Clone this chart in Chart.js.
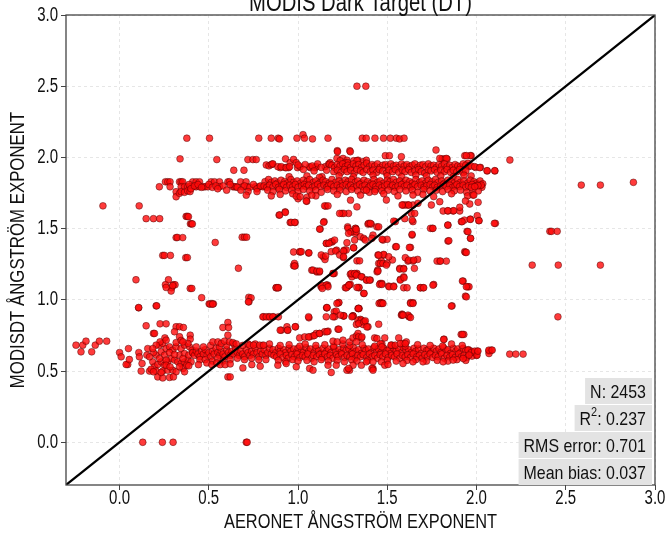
<!DOCTYPE html>
<html>
<head>
<meta charset="utf-8">
<script src="https://cdn.jsdelivr.net/npm/chart.js@4.4.1/dist/chart.umd.min.js"></script>
<style>
html,body{margin:0;padding:0;background:#fff;}
canvas{display:block;}
</style>
</head>
<body>
<canvas id="c" width="668" height="535"></canvas>
<script>
// ---------- text ----------
const chartTitle = 'MODIS Dark Target (DT)';
const xTitle = 'AERONET ÅNGSTRÖM EXPONENT';
const yTitle = 'MODISDT ÅNGSTRÖM EXPONENT';
const xTicks = [0.0, 0.5, 1.0, 1.5, 2.0, 2.5, 3.0];
const yTicks = [0.0, 0.5, 1.0, 1.5, 2.0, 2.5, 3.0];
const axisRange = [-0.3, 3.0];
const oneToOne = [-0.3, 3.0];
const statLabels = ['N', 'R2', 'RMS error', 'Mean bias'];
const statValues = ['2453', '0.237', '0.701', '0.037'];

// ---------- data ----------
const outliersTop = [[1.33,2.50],[1.38,2.50],[0.377,2.135],[0.504,2.135],[0.78,2.135],[0.85,2.135],[0.889,2.135],[0.896,2.13],[0.994,2.135],[1.028,2.16],[1.036,2.135],[1.081,2.13],[1.168,2.135],[1.36,2.135],[1.382,2.135],[1.431,2.135],[1.479,2.135],[1.517,2.135],[1.551,2.135],[1.569,2.13],[1.594,2.135],
[0.339,1.99],[0.545,1.985],[0.719,1.985],[0.747,1.985],[0.766,1.985],[1.22,2.047],[1.29,2.047],[1.773,2.052],[2.187,1.982],[1.934,2.012],[1.97,2.012],[1.807,1.989],[1.82,1.989],[1.835,1.989],[1.489,2.012],[1.512,2.012],[1.579,2.005],[0.64,1.91],[0.697,1.91],[0.822,1.947],[2.06,1.905],[2.103,1.905],[1.994,1.93],[2.022,1.93],[1.952,1.959],
[0.93,1.99],[1.252,1.993],[1.274,1.98],[1.336,1.98],[1.364,1.97],[1.383,1.98],[1.794,1.993],[1.831,1.993],[1.965,2.013],[1.943,2.013]];

const upperBand = [[0.837,1.941],[0.856,1.953],[0.9,1.928],[0.928,1.928],[0.947,1.928],[0.956,1.963],[0.975,1.986],[0.99,1.963],[0.997,1.928],[1.012,1.935],[1.068,1.928],[1.096,1.928],[1.134,1.865],[1.152,1.935],[1.171,1.953],[1.18,1.963],[1.218,1.993],[1.221,2.04],[1.236,1.977],[1.256,1.935],[1.265,1.963],[1.278,1.963],[1.293,2.04],[1.312,1.977],[1.33,1.977],[0.85,1.95],[0.859,1.955],[0.887,1.935],[0.906,1.935],[0.934,1.928],[0.953,1.935],[1.0,1.947],[1.065,1.935],[1.102,1.935],[1.177,1.952],
[1.19,1.945],[1.205,1.93],[1.22,1.95],[1.235,1.94],[1.25,1.955],[1.265,1.935],[1.28,1.945],[1.295,1.93],[1.31,1.955],[1.325,1.94],[1.34,1.95],[1.355,1.93],[1.37,1.945],[1.385,1.96],[1.4,1.935],[1.415,1.95],[1.43,1.94],[1.445,1.955],[1.46,1.93],[1.475,1.945],[1.49,1.95],[1.505,1.935],[1.52,1.955],[1.535,1.94],[1.55,1.945],[1.565,1.93],[1.58,1.955],[1.595,1.94],[1.61,1.95],[1.625,1.935],[1.64,1.945],[1.655,1.955],[1.67,1.93],[1.685,1.945],[1.7,1.95],[1.715,1.935],[1.73,1.955],[1.745,1.94],[1.76,1.945],[1.775,1.93],[1.79,1.95],[1.805,1.94],[1.82,1.955],[1.835,1.935],[1.85,1.945],[1.865,1.93],[1.88,1.95],[1.895,1.94],[1.91,1.935],[1.925,1.955],[1.94,1.945],[1.955,1.935],[1.97,1.94],
[1.2,1.9],[1.22,1.91],[1.24,1.895],[1.26,1.915],[1.275,1.9],[1.295,1.91],[1.315,1.89],[1.33,1.915],[1.35,1.905],[1.365,1.895],[1.385,1.915],[1.405,1.9],[1.42,1.91],[1.44,1.895],[1.455,1.915],[1.475,1.905],[1.495,1.89],[1.51,1.91],[1.53,1.9],[1.545,1.915],[1.565,1.895],[1.585,1.91],[1.6,1.9],[1.62,1.915],[1.635,1.895],[1.655,1.905],[1.675,1.915],[1.69,1.9],[1.71,1.89],[1.73,1.91],[1.745,1.905],[1.765,1.915],[1.78,1.895],[1.8,1.91],[1.82,1.9],[1.835,1.915],[1.855,1.895],[1.87,1.91],[1.89,1.9],[1.905,1.915],[1.925,1.895],[1.94,1.905],[1.99,1.935],[2.018,1.928],[2.059,1.907],[2.102,1.907],
[1.05,1.87],[1.23,1.87],[1.31,1.865],[1.42,1.875],[1.5,1.87],[1.58,1.865],[1.66,1.875],[1.72,1.87],[1.8,1.87],[1.87,1.865],[1.93,1.875],[1.97,1.87],[1.12,1.86],[0.95,1.865],
[1.04,1.95],[1.08,1.94],[1.11,1.955],[1.13,1.93],[1.16,1.91],[1.09,1.905],[1.03,1.915]];

const band18Left = [[0.257,1.829],[0.27,1.829],[0.283,1.829],[0.336,1.829],[0.345,1.829],[0.354,1.829],[0.41,1.829],[0.429,1.829],[0.448,1.829],[0.513,1.829],[0.532,1.829],[0.56,1.829],[0.607,1.829],[0.616,1.829],[0.678,1.829],[0.709,1.829],
[0.223,1.794],[0.283,1.794],[0.345,1.794],[0.364,1.794],[0.382,1.794],[0.395,1.794],[0.41,1.794],[0.429,1.794],[0.448,1.794],[0.47,1.794],[0.48,1.794],[0.495,1.794],[0.56,1.794],[0.635,1.794],[0.644,1.794],[0.653,1.794],[0.691,1.794],[0.719,1.794],[0.762,1.794],[0.784,1.794],[0.803,1.794],
[0.317,1.759],[0.317,1.724],[0.336,1.748],[0.345,1.76],[0.364,1.755],[0.382,1.765],[0.395,1.76],
[0.39,1.81],[0.40,1.78],[0.42,1.8],[0.44,1.81],[0.46,1.79],[0.5,1.81],[0.52,1.79],[0.54,1.8],[0.58,1.8],[0.62,1.81],[0.66,1.79],[0.7,1.8],[0.73,1.79],[0.75,1.81],[0.77,1.78],[0.79,1.8],[0.72,1.76],[0.77,1.76],[0.68,1.77],[0.6,1.77],[0.55,1.78],[0.71,1.735]];

const band18 = [[0.815,1.83],[0.835,1.845],[0.85,1.825],[0.87,1.835],[0.885,1.82],[0.905,1.84],[0.925,1.83],[0.94,1.82],[0.96,1.845],[0.975,1.825],[0.995,1.835],[1.015,1.82],[1.03,1.84],[1.05,1.83],[1.065,1.845],[1.085,1.825],[1.1,1.835],[1.12,1.82],[1.14,1.84],[1.155,1.83],[1.175,1.82],[1.19,1.845],[1.21,1.825],[1.23,1.835],[1.245,1.82],[1.265,1.84],[1.28,1.83],[1.3,1.845],[1.32,1.825],[1.335,1.835],[1.355,1.82],[1.37,1.84],[1.39,1.83],[1.41,1.82],[1.425,1.845],[1.445,1.825],[1.46,1.835],[1.48,1.82],[1.5,1.84],[1.515,1.83],[1.535,1.845],[1.55,1.825],[1.57,1.835],[1.59,1.82],[1.605,1.84],[1.625,1.83],[1.64,1.82],[1.66,1.845],[1.68,1.825],[1.695,1.835],[1.715,1.82],[1.73,1.84],[1.75,1.83],[1.77,1.845],[1.785,1.825],[1.805,1.835],[1.82,1.82],[1.84,1.84],[1.86,1.83],[1.875,1.82],[1.895,1.845],[1.91,1.825],[1.93,1.835],[1.95,1.82],[1.965,1.84],[1.985,1.83],[2.0,1.82],[2.02,1.835],[2.035,1.815],
[0.81,1.8],[0.825,1.79],[0.84,1.805],[0.86,1.795],[0.875,1.81],[0.89,1.79],[0.91,1.8],[0.92,1.81],[0.935,1.79],[0.955,1.805],[0.97,1.795],[0.985,1.81],[1.0,1.79],[1.02,1.8],[1.035,1.81],[1.045,1.795],[1.06,1.805],[1.08,1.79],[1.095,1.8],[1.11,1.81],[1.125,1.795],[1.145,1.805],[1.16,1.79],[1.17,1.8],[1.185,1.81],[1.2,1.795],[1.22,1.805],[1.235,1.79],[1.25,1.8],[1.27,1.81],[1.285,1.795],[1.295,1.805],[1.31,1.79],[1.33,1.8],[1.345,1.81],[1.36,1.795],[1.375,1.805],[1.395,1.79],[1.405,1.8],[1.42,1.81],[1.435,1.795],[1.455,1.805],[1.47,1.79],[1.485,1.8],[1.5,1.81],[1.52,1.795],[1.53,1.805],[1.545,1.79],[1.56,1.8],[1.58,1.81],[1.595,1.795],[1.61,1.805],[1.63,1.79],[1.645,1.8],[1.655,1.81],[1.67,1.795],[1.69,1.805],[1.705,1.79],[1.72,1.8],[1.74,1.81],[1.755,1.795],[1.765,1.805],[1.78,1.79],[1.8,1.8],[1.815,1.81],[1.83,1.795],[1.85,1.805],[1.865,1.79],[1.88,1.8],[1.89,1.81],[1.905,1.795],[1.925,1.805],[1.94,1.79],[1.955,1.8],[1.975,1.81],[1.99,1.795],[2.005,1.805],[2.02,1.8],[2.03,1.79],
[0.83,1.77],[0.86,1.76],[0.895,1.775],[0.93,1.765],[0.965,1.77],[1.0,1.76],[1.03,1.775],[1.065,1.765],[1.1,1.77],[1.13,1.755],[1.165,1.775],[1.2,1.765],[1.235,1.77],[1.27,1.76],[1.3,1.775],[1.335,1.765],[1.37,1.77],[1.4,1.755],[1.435,1.775],[1.47,1.765],[1.505,1.77],[1.54,1.76],[1.57,1.775],[1.605,1.765],[1.64,1.77],[1.67,1.755],[1.705,1.775],[1.74,1.765],[1.775,1.77],[1.81,1.76],[1.84,1.775],[1.875,1.765],[1.91,1.77],[1.945,1.755],[1.98,1.77],[2.01,1.765],
[0.9,1.74],[0.97,1.745],[1.1,1.73],[1.22,1.74],[1.35,1.735],[1.48,1.745],[1.56,1.73],[1.7,1.74],[1.76,1.725],[1.86,1.745],[1.95,1.73],[0.85,1.73],[1.0,1.71],[1.05,1.72],[0.99,1.728],[1.012,1.724],[1.077,1.735],[2.027,1.806],[2.008,1.802],[1.971,1.79],[1.99,1.795],[1.383,1.77],[1.43,1.76],[1.644,1.736],[1.98,1.736],[1.985,1.736]];

const midScatter = [[-0.093,1.66],[0.11,1.66],[0.149,1.57],[0.19,1.57],[0.225,1.57],[0.373,1.586],[0.38,1.586],[0.386,1.584],[0.397,1.534],[0.403,1.534],[0.408,1.533],[0.317,1.437],[0.324,1.438],[0.354,1.437],[0.536,1.403],[0.687,1.44],[0.70,1.44],[0.712,1.44],[0.242,1.312],[0.251,1.312],[0.285,1.312],[0.371,1.296],[0.38,1.297],[0.666,1.222],[0.092,1.141],[0.274,1.141],[0.257,1.106],[0.302,1.106],[0.292,1.085],[0.311,1.106],[0.289,1.062],[0.261,1.087],[0.298,1.1],[0.396,1.08],[0.405,1.08],[0.46,1.015],[0.502,0.972],[0.517,0.972],[0.526,0.972],[0.107,0.944],[0.205,0.958],[0.724,1.018],[0.737,1.014],[0.725,0.986],[0.877,1.085],[0.89,1.085],[0.807,0.881],[0.835,0.881],[0.862,0.881],[0.89,0.881],[0.803,0.881],
[0.894,1.595],[0.928,1.618],[0.956,1.543],[0.984,1.543],[1.049,1.692],[0.975,1.336],[1.012,1.336],[1.059,1.329],[1.077,1.208],[1.105,1.196],[1.12,1.196],[0.975,1.24],[0.984,1.24],[1.124,1.497],[1.156,1.658],[1.146,1.549],[1.16,1.396],[1.192,1.407],[1.216,1.349],[1.259,1.349],[1.141,1.302],[1.151,1.283],[1.197,1.185],[1.203,1.185],[1.16,1.104],[1.166,1.104],[1.129,1.092],[1.254,1.297],[1.277,1.092],[1.287,1.106],[1.293,1.18],[1.312,1.18],[1.33,1.18],[1.227,0.979],[1.16,0.944],[1.203,0.916],[1.254,0.888],[1.307,0.888],[1.33,1.274],[1.312,1.365],[1.294,1.478],[1.32,1.467],[1.278,1.513],[1.283,1.607],[1.246,1.607],[1.256,1.607],[1.294,1.70],[1.33,1.653],
[1.046,1.694],[1.149,1.66],[1.168,1.66],[0.897,1.596],[0.929,1.614],[1.233,1.607],[0.962,1.544],[0.981,1.544],[1.121,1.497],[1.143,1.544],[1.28,1.502],[1.323,1.502],[1.392,1.532],[1.41,1.532],[1.545,1.549],[1.644,1.549],[1.753,1.502],[1.84,1.525],[1.915,1.549],[1.588,1.666],[1.616,1.666],[1.644,1.666],[1.672,1.678],[1.747,1.666],[1.794,1.689],[1.813,1.624],[1.84,1.624],[1.869,1.624],[1.906,1.624],[1.495,1.701],[1.299,1.478],[1.327,1.478],[1.42,1.455],[1.476,1.42],[1.186,1.408],[1.205,1.42],[1.158,1.397],[1.173,1.397],[1.317,1.42],[1.009,1.338],[1.018,1.338],[1.061,1.33],[1.13,1.315],[1.155,1.308],[1.186,1.338],[1.211,1.343],[1.27,1.35],[1.233,1.315],[1.48,1.315],[1.547,1.373],[1.639,1.455],[1.84,1.413],[1.794,1.272],[1.831,1.272],[1.616,1.272],[1.644,1.272],[1.448,1.315],[1.467,1.272],[1.934,1.338],[1.529,1.28],[0.98,1.256],
[2.009,1.685],[1.962,1.673],[1.938,1.694],[1.906,1.65],[1.872,1.626],[1.839,1.626],[2.004,1.591],[2.013,1.556],[1.966,1.567],[1.932,1.56],[1.919,1.549],[1.839,1.525],[1.947,1.481],[1.966,1.432],[1.845,1.415],[1.938,1.333],[1.925,1.132],[1.951,1.092],[1.938,1.026],[1.863,0.958],[1.635,1.607],[1.654,1.607],[1.601,1.666],[1.62,1.666],[1.583,1.666],[1.536,1.553],[1.598,1.57],[1.639,1.56],[1.442,1.513],[1.452,1.513],[1.396,1.537],[1.405,1.537],[1.742,1.502],[1.756,1.502],[1.639,1.46],[1.499,1.425],[1.471,1.425],[1.551,1.373],[1.63,1.368],[1.624,1.368],[1.48,1.319],[1.508,1.303],[1.452,1.314],[1.601,1.296],[1.62,1.279],[1.67,1.284],[1.648,1.279],[1.779,1.272],[1.798,1.272],[1.452,1.256],[1.461,1.256],[1.476,1.256],[1.499,1.256],[1.446,1.209],[1.443,1.197],[1.57,1.221],[1.592,1.221],[1.652,1.221],[1.592,1.162],[1.573,1.144],[1.461,1.115],[1.47,1.115],[1.508,1.097],[1.536,1.097],[1.592,1.085],[1.611,1.085],[1.686,1.085],[1.701,1.085],[1.76,1.108],[1.461,0.98],[1.47,0.98],[1.63,0.98],[1.644,0.98],[1.34,0.94],[1.583,0.9],[1.62,0.886],[1.255,0.886],[1.349,0.863],[1.321,1.502],[1.326,1.495],[1.283,1.467],[1.349,1.443],[1.368,1.432],[1.414,1.432],[1.377,1.42],[1.311,1.366],[1.255,1.342],[1.274,1.401],[1.33,1.186],[1.321,1.174],[1.302,1.162],[1.358,1.162],[1.386,1.139],[1.405,1.139],[1.293,1.108],[1.265,1.085],[1.34,1.085],[1.368,1.045],[1.345,1.274],[1.255,1.303],
[1.965,1.565],[2.014,1.556],[1.952,1.479],[1.967,1.432],[1.943,1.333],[1.958,1.092],[1.943,1.092],[1.943,1.021],[2.106,1.537],[2.1,1.537],
[0.981,1.237],[1.084,1.209],[1.106,1.202],[1.121,1.202],[1.196,1.185],[1.299,1.185],[1.317,1.185],[1.327,1.174],[1.355,1.162],[1.383,1.139],[1.401,1.139],[1.448,1.202],[1.495,1.244],[1.57,1.216],[1.592,1.216],[1.573,1.139],[1.594,1.155],[1.921,1.132],[0.878,1.085],[0.887,1.085],[1.13,1.103],[1.158,1.103],[1.168,1.092],[1.136,1.08],[1.271,1.085],[1.285,1.103],[1.342,1.087],[1.33,1.087],[1.37,1.045],[1.457,1.108],[1.47,1.108],[1.51,1.092],[1.536,1.092],[1.685,1.085],[1.704,1.085],[1.756,1.103],[1.229,0.982],[1.162,0.944],[1.214,0.921],[1.205,0.881],[1.257,0.888],[1.308,0.888],[1.342,0.939],[1.336,0.939],[1.454,0.975],[1.47,0.975],[1.631,0.975],[1.644,0.975],[1.579,0.893],[1.622,0.881],[1.616,0.893],[1.859,0.956],[1.061,0.874],[0.822,0.881],[0.841,0.881],[0.859,0.881],[0.906,0.787],[0.938,0.811],[0.986,0.811],[0.943,0.787],[1.158,0.881],[1.196,0.881],[1.336,0.858],[1.355,0.858],[1.373,0.846],[1.392,0.811],[1.364,0.827],[1.327,0.827],[1.224,0.794],[1.229,0.794],
[1.465,0.975],[1.476,0.975],[1.583,0.893],[1.588,0.893],[1.63,0.876],[1.237,0.893],[1.308,0.886],[1.34,0.834],[1.368,0.846],[1.377,0.853],[1.386,0.81],[1.452,0.829],[1.914,0.757],[1.929,0.757],[0.107,0.946],[0.208,0.958],[0.507,0.97],[0.522,0.97],[0.722,0.986],[1.059,0.881],[1.162,0.946],[1.218,0.975],[1.302,0.881],[1.339,0.94],[0.9,0.787],[0.941,0.787],[0.984,0.811]];

const outliersRight = [[2.587,1.806],[2.694,1.806],[2.879,1.825],[2.411,1.481],[2.42,1.481],[2.452,1.481],[2.312,1.244],[2.458,1.244],[2.694,1.244],[2.456,0.881],[2.186,0.619],[2.22,0.619],[2.261,0.619],[2.07,0.64],[2.083,0.647],[2.07,0.623],[2.069,0.647],[2.088,0.647]];

const lowLeft = [[0.13,0.0],[0.24,0.0],[0.30,0.0],[0.71,0.0],[0.715,0.0],
[-0.244,0.682],[-0.206,0.682],[-0.188,0.71],[-0.216,0.635],[-0.156,0.635],[-0.136,0.682],[-0.113,0.71],[-0.072,0.71],
[0.05,0.658],[0.0,0.63],[0.009,0.6],[0.046,0.546],[0.037,0.546],[0.055,0.581],[0.108,0.63],[0.111,0.6],[0.126,0.553],[0.158,0.658],[0.153,0.612],[0.121,0.5],[0.168,0.5],
[0.149,0.818],[0.227,0.832],[0.261,0.832],[0.19,0.764],[0.196,0.764],[0.254,0.733],[0.317,0.811],[0.336,0.811],[0.358,0.806],[0.308,0.776],[0.336,0.741],[0.396,0.752],[0.396,0.724],[0.579,0.806],[0.607,0.841],[0.611,0.806],[0.607,0.752],
[0.205,0.612],[0.224,0.682],[0.242,0.694],[0.233,0.635],[0.261,0.658],[0.28,0.67],[0.298,0.647],[0.317,0.67],[0.345,0.658],[0.364,0.682],[0.392,0.67],[0.407,0.647],[0.186,0.565],[0.196,0.53],[0.214,0.546],[0.233,0.565],[0.252,0.541],[0.27,0.565],[0.289,0.588],[0.308,0.577],[0.326,0.565],[0.345,0.553],[0.364,0.565],[0.383,0.577],[0.401,0.565],[0.177,0.513],[0.205,0.5],[0.242,0.5],[0.27,0.506],[0.298,0.506],[0.317,0.495],[0.214,0.459],[0.242,0.452],[0.28,0.455],[0.302,0.459],[0.355,0.518],[0.377,0.541],[0.336,0.612],[0.364,0.623],[0.388,0.612],[0.41,0.628],
[0.19,0.63],[0.168,0.6],[0.252,0.612],[0.28,0.63],[0.308,0.616],[0.261,0.577],[0.224,0.588],[0.355,0.588],[0.388,0.537],[0.227,0.705],[0.261,0.717],[0.317,0.7],[0.345,0.715],[0.383,0.694],[0.355,0.705],[0.205,0.682],[0.186,0.658],[0.261,0.541],[0.283,0.53],[0.336,0.53],[0.364,0.495],[0.233,0.49],[0.19,0.495]];

const band06 = [[0.41,0.63],[0.42,0.61],[0.43,0.64],[0.44,0.62],[0.45,0.60],[0.46,0.64],[0.47,0.62],[0.48,0.65],[0.49,0.61],[0.50,0.63],[0.51,0.60],[0.52,0.64],[0.53,0.62],[0.54,0.66],[0.55,0.63],[0.56,0.61],[0.57,0.64],[0.58,0.62],[0.59,0.60],[0.60,0.65],[0.61,0.63],[0.62,0.61],[0.63,0.64],[0.64,0.62],[0.65,0.66],[0.66,0.63],[0.67,0.61],[0.68,0.64],[0.69,0.62],[0.70,0.60],[0.71,0.65],[0.72,0.63],[0.73,0.61],[0.74,0.64],[0.75,0.62],[0.76,0.66],[0.77,0.63],[0.78,0.60],[0.79,0.64],[0.80,0.62],[0.81,0.65],[0.82,0.61],[0.83,0.63],[0.84,0.66],[0.85,0.62],
[0.45,0.58],[0.48,0.58],[0.52,0.57],[0.55,0.59],[0.58,0.57],[0.62,0.58],[0.66,0.59],[0.70,0.58],[0.74,0.59],[0.78,0.58],[0.82,0.58],[0.43,0.67],[0.47,0.67],[0.51,0.68],[0.56,0.67],[0.6,0.68],[0.64,0.69],[0.69,0.68],[0.72,0.69],[0.76,0.69],[0.8,0.68],[0.84,0.69],[0.607,0.459],[0.62,0.459],
[0.523,0.705],[0.551,0.705],[0.57,0.694],[0.588,0.71],[0.616,0.705],[0.635,0.7],[0.654,0.691],[0.729,0.682],[0.751,0.682],[0.785,0.682],[0.807,0.682],[0.442,0.545],[0.489,0.557],[0.517,0.545],[0.545,0.557],[0.564,0.545],[0.592,0.545],[0.62,0.55],[0.691,0.522],[0.741,0.545],[0.788,0.534],
[0.86,0.65],[0.875,0.63],[0.89,0.66],[0.9,0.64],[0.92,0.65],[0.93,0.63],[0.95,0.66],[0.96,0.64],[0.975,0.655],[0.99,0.63],[1.0,0.66],[1.02,0.645],[1.03,0.63],[1.045,0.665],[1.06,0.64],[1.07,0.655],[1.09,0.63],[1.1,0.66],[1.115,0.645],[1.13,0.625],[1.14,0.66],[1.16,0.64],[1.17,0.655],[1.185,0.63],[1.2,0.665],[1.21,0.64],[1.23,0.65],[1.24,0.63],[1.255,0.66],[1.27,0.645],[1.285,0.655],[1.3,0.63],[1.31,0.665],[1.325,0.64],[1.34,0.65],[1.355,0.625],[1.37,0.66],[1.38,0.645],[1.395,0.655],[1.41,0.63],[1.425,0.665],[1.44,0.64],[1.45,0.655],[1.465,0.63],[1.48,0.66],[1.495,0.645],[1.51,0.65],[1.52,0.625],[1.535,0.66],[1.55,0.64],[1.565,0.655],[1.58,0.63],[1.59,0.665],[1.605,0.645],[1.62,0.65],[1.635,0.63],[1.65,0.66],[1.66,0.64],[1.675,0.655],[1.69,0.625],[1.705,0.66],[1.72,0.645],[1.73,0.65],[1.745,0.63],[1.76,0.66],[1.775,0.64],[1.79,0.655],[1.8,0.63],[1.815,0.665],[1.83,0.645],[1.84,0.65],[1.855,0.625],[1.87,0.66],[1.885,0.64],[1.895,0.655],[1.91,0.63],[1.925,0.66],[1.94,0.645],[1.955,0.65],[1.97,0.64],[1.99,0.63],[2.005,0.64],[2.0,0.61],
[0.865,0.61],[0.88,0.6],[0.9,0.62],[0.915,0.595],[0.935,0.61],[0.945,0.59],[0.965,0.615],[0.98,0.6],[0.995,0.62],[1.01,0.595],[1.025,0.61],[1.04,0.6],[1.055,0.62],[1.075,0.59],[1.085,0.61],[1.105,0.6],[1.12,0.615],[1.135,0.595],[1.15,0.62],[1.165,0.6],[1.18,0.61],[1.195,0.59],[1.215,0.615],[1.225,0.6],[1.245,0.62],[1.26,0.595],[1.275,0.61],[1.29,0.6],[1.305,0.62],[1.32,0.59],[1.335,0.61],[1.35,0.6],[1.365,0.615],[1.385,0.595],[1.4,0.62],[1.415,0.6],[1.43,0.61],[1.445,0.59],[1.46,0.615],[1.475,0.6],[1.49,0.62],[1.505,0.595],[1.525,0.61],[1.54,0.6],[1.555,0.62],[1.57,0.59],[1.585,0.61],[1.6,0.6],[1.615,0.615],[1.63,0.595],[1.645,0.62],[1.665,0.6],[1.68,0.61],[1.695,0.59],[1.71,0.615],[1.725,0.6],[1.74,0.62],[1.755,0.595],[1.77,0.61],[1.785,0.6],[1.805,0.62],[1.82,0.59],[1.835,0.61],[1.85,0.6],[1.865,0.615],[1.88,0.595],[1.9,0.62],[1.915,0.6],[1.93,0.61],[1.945,0.595],[1.96,0.62],[1.975,0.605],
[0.89,0.575],[0.93,0.565],[0.97,0.58],[1.0,0.57],[1.05,0.575],[1.09,0.565],[1.13,0.58],[1.17,0.57],[1.22,0.575],[1.26,0.565],[1.3,0.58],[1.33,0.57],[1.39,0.575],[1.42,0.565],[1.5,0.575],[1.55,0.57],[1.61,0.575],[1.66,0.58],[1.72,0.57],[1.78,0.575],[1.84,0.57],[1.89,0.58],[1.94,0.575],
[0.9,0.68],[0.95,0.685],[1.01,0.675],[1.04,0.69],[1.1,0.68],[1.15,0.685],[1.2,0.675],[1.25,0.69],[1.29,0.68],[1.36,0.685],[1.43,0.675],[1.47,0.69],[1.53,0.68],[1.6,0.675],[1.67,0.685],[1.74,0.68],[1.81,0.675],[1.86,0.69],[1.92,0.68],
[1.952,0.647],[1.971,0.63],[1.99,0.64],[2.003,0.612],[2.008,0.64],[1.958,0.612],
[1.009,0.733],[1.037,0.74],[1.065,0.74],[1.084,0.747],[1.102,0.764],[1.121,0.764],[1.149,0.776],[1.168,0.78],[1.196,0.71],[1.22,0.705],[1.252,0.717],[1.289,0.705],[1.308,0.733],[1.327,0.747],[1.336,0.764],[1.355,0.733],[1.429,0.733],[1.486,0.733],[1.523,0.682],[1.564,0.733],[1.588,0.694],[1.607,0.705],[1.818,0.724],[1.921,0.757],[1.816,0.722],[1.34,0.74],[1.327,0.705],[1.358,0.74],[1.461,0.693],[1.442,0.729],[1.521,0.682],[1.545,0.682],[1.573,0.693],[1.601,0.693],[1.47,0.67],[1.059,0.74],[1.092,0.75],[1.12,0.764],[1.162,0.776],
[0.887,0.541],[0.934,0.553],[0.99,0.53],[1.065,0.518],[1.084,0.506],[1.186,0.49],[1.168,0.541],[1.214,0.541],[1.289,0.506],[1.308,0.541],[1.355,0.541],[1.383,0.565],[1.42,0.518],[1.467,0.565],[1.486,0.541],[1.504,0.546],[1.588,0.553],[1.644,0.565],[1.7,0.565],[1.813,0.565],[1.869,0.577],[1.925,0.588],[1.274,0.506],[1.283,0.518],[1.414,0.518],[1.42,0.506]];

// ---------- build ----------
const toPts = arr => arr.map(p => ({x: p[0], y: p[1]}));
const allPoints = toPts([].concat(outliersTop, upperBand, band18Left, band18, midScatter, outliersRight, lowLeft, band06));

const FONT = "'Liberation Sans', Arial, sans-serif";

function narrowText(c, text, x, y, size, sx, align) {
  c.save();
  c.font = size + 'px ' + FONT;
  const w = c.measureText(text).width * sx;
  let x0 = x;
  if (align === 'center') x0 = x - w / 2;
  else if (align === 'right') x0 = x - w;
  c.translate(x0, y);
  c.scale(sx, 1);
  c.textAlign = 'left';
  c.fillText(text, 0, 0);
  c.restore();
  return w;
}
function narrowWidth(c, text, size, sx) {
  c.save();
  c.font = size + 'px ' + FONT;
  const w = c.measureText(text).width * sx;
  c.restore();
  return w;
}

const decor = {
  id: 'decor',
  beforeDraw(chart) {
    const c = chart.ctx;
    c.save();
    c.fillStyle = '#fff';
    c.fillRect(0, 0, chart.width, chart.height);
    c.restore();
  },
  afterDraw(chart) {
    const c = chart.ctx, a = chart.chartArea;
    const sx = chart.scales.x, sy = chart.scales.y;
    c.save();
    // frame
    c.strokeStyle = '#444';
    c.lineWidth = 1.3;
    c.strokeRect(a.left, a.top, a.right - a.left, a.bottom - a.top);
    c.fillStyle = '#111';
    c.textBaseline = 'middle';
    // tick labels
    for (const v of xTicks) narrowText(c, v.toFixed(1), sx.getPixelForValue(v), a.bottom + 13, 20, 0.75, 'center');
    for (const v of yTicks) narrowText(c, v.toFixed(1), a.left - 8, sy.getPixelForValue(v), 20, 0.75, 'right');
    // title
    c.textBaseline = 'alphabetic';
    narrowText(c, chartTitle, (a.left + a.right) / 2, 11, 25, 0.81, 'center');
    // axis titles
    c.textBaseline = 'middle';
    narrowText(c, xTitle, (a.left + a.right) / 2, 522, 21, 0.78, 'center');
    c.save();
    c.translate(18, (a.top + a.bottom) / 2);
    c.rotate(-Math.PI / 2);
    narrowText(c, yTitle, 0, 0, 21, 0.8, 'center');
    c.restore();
    // stats box
    const right = a.right - 3;
    const h = 27;
    const SZ = 19, SX = 0.84;
    for (let i = 0; i < statLabels.length; i++) {
      const top = a.bottom + 1 - h * (statLabels.length - i);
      let parts;
      if (statLabels[i] === 'R2') {
        parts = [['R', SZ, 0], ['2', 13, -7], [': ' + statValues[i], SZ, 0]];
      } else {
        parts = [[statLabels[i] + ': ' + statValues[i], SZ, 0]];
      }
      let w = 0;
      for (const p of parts) w += narrowWidth(c, p[0], p[1], SX);
      const left = right - w - 11;
      c.fillStyle = '#e3e3e3';
      c.fillRect(left, top, right - left, h - 1);
      c.fillStyle = '#111';
      let x = left + 5;
      const cy = top + h / 2 + 1;
      for (const p of parts) {
        x += narrowText(c, p[0], x, cy + p[2], p[1], SX, 'left');
      }
    }
    c.restore();
  }
};

new Chart(document.getElementById('c'), {
  data: {
    datasets: [
      {
        type: 'line',
        data: toPts([[oneToOne[0], oneToOne[0]], [oneToOne[1], oneToOne[1]]]),
        borderColor: '#000',
        borderWidth: 2.2,
        pointRadius: 0,
        fill: false,
        order: 0
      },
      {
        type: 'scatter',
        data: allPoints,
        backgroundColor: 'rgba(255,10,10,0.8)',
        borderColor: 'rgba(70,0,0,0.65)',
        borderWidth: 0.7,
        pointRadius: 3.4,
        order: 1
      }
    ]
  },
  options: {
    responsive: false,
    animation: false,
    devicePixelRatio: 1,
    layout: { padding: { left: 0, right: 13, top: 15, bottom: 0 } },
    plugins: { legend: { display: false }, tooltip: { enabled: false } },
    scales: {
      x: {
        type: 'linear',
        min: axisRange[0], max: axisRange[1],
        afterFit(s) { s.height = 50; },
        afterBuildTicks(s) { s.ticks = xTicks.map(v => ({value: v})); },
        grid: { color: '#e6e6e6', lineWidth: 1, drawTicks: true, tickLength: 5, tickColor: '#444' },
        border: { display: false, dash: [3, 3] },
        ticks: { display: false }
      },
      y: {
        type: 'linear',
        min: axisRange[0], max: axisRange[1],
        afterFit(s) { s.width = 66; },
        afterBuildTicks(s) { s.ticks = yTicks.map(v => ({value: v})); },
        grid: { color: '#e6e6e6', lineWidth: 1, drawTicks: true, tickLength: 5, tickColor: '#444' },
        border: { display: false, dash: [3, 3] },
        ticks: { display: false }
      }
    }
  },
  plugins: [decor]
});
</script>
</body>
</html>
